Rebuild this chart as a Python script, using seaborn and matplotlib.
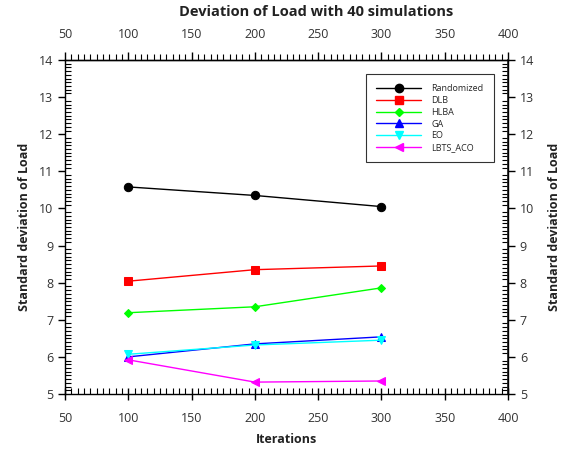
import matplotlib
matplotlib.use("Agg")
import matplotlib.pyplot as plt
from matplotlib.ticker import MultipleLocator, FixedLocator
from matplotlib.lines import Line2D
import seaborn as sns
import numpy as np
import pandas as pd

iterations = [100, 200, 300]
randomized = [10.58, 10.35, 10.05]
dlb = [8.04, 8.35, 8.45]
hlba = [7.19, 7.35, 7.86]
ga = [6.00, 6.35, 6.54]
eo = [6.07, 6.32, 6.45]
lbts_aco = [5.92, 5.32, 5.35]

series_names = ["Randomized", "DLB", "HLBA", "GA", "EO", "LBTS_ACO"]
series_values = [randomized, dlb, hlba, ga, eo, lbts_aco]
colors = ["#000000", "#ff0000", "#00ff00", "#0000ff", "#00ffff", "#ff00ff"]
markers = ["o", "s", "D", "^", "v", "<"]
marker_sizes = [6, 6, 4.5, 6, 6, 6]

sns.set_theme(style="white")
plt.rcParams["font.family"] = ["Open Sans", "DejaVu Sans"]

fig = plt.figure(figsize=(5.63, 4.54), dpi=100)
ax = fig.add_axes([0.1155, 0.1322, 0.7868, 0.7356])

rows = []
for name, vals in zip(series_names, series_values):
    for x, y in zip(iterations, vals):
        rows.append({"Iterations": x, "Value": y, "Method": name})
df = pd.DataFrame(rows)

handles = []
for name, c, m, ms in zip(series_names, colors, markers, marker_sizes):
    sub = df[df["Method"] == name]
    sns.lineplot(data=sub, x="Iterations", y="Value", ax=ax, color=c,
                 marker=m, markersize=ms, markeredgecolor=c, linewidth=1.0,
                 legend=False)
    handles.append(Line2D([0], [0], color=c, marker=m, markersize=ms,
                          markeredgecolor=c, linewidth=1.0, label=name))

x_major = np.arange(50, 401, 50)
x_minor = np.arange(50, 401, 5)
y_major = np.arange(5, 15, 1)
y_minor = np.round(np.arange(5, 14.001, 0.1), 1)

ax.set_xlim(50, 400)
ax.set_ylim(5, 14)
ax.xaxis.set_major_locator(FixedLocator(x_major))
ax.xaxis.set_minor_locator(FixedLocator(x_minor))
ax.yaxis.set_major_locator(FixedLocator(y_major))
ax.yaxis.set_minor_locator(FixedLocator(y_minor))

for s in ax.spines.values():
    s.set_color("black")
    s.set_linewidth(1.0)

tick_color = "#333333"
ax.tick_params(axis="x", which="major", direction="inout", length=8, width=1,
               color="black", labelsize=9, labelcolor=tick_color, pad=9,
               bottom=True, top=False)
ax.tick_params(axis="x", which="minor", direction="in", length=4, width=0.8,
               color="black", bottom=True, top=False)
ax.tick_params(axis="y", which="major", direction="out", length=5, width=1,
               color="black", labelsize=9, labelcolor=tick_color, left=True, right=False)
ax.tick_params(axis="y", which="minor", direction="in", length=4, width=0.8,
               color="black", left=True, right=False)

# top axis: ticks pointing outward
top = ax.secondary_xaxis("top")
top.xaxis.set_major_locator(FixedLocator(x_major))
top.xaxis.set_minor_locator(FixedLocator(x_minor))
top.tick_params(axis="x", which="major", direction="out", length=6, width=1,
                color="black", labelsize=9, labelcolor=tick_color, pad=8)
top.tick_params(axis="x", which="minor", direction="out", length=4, width=0.8,
                color="black")
top.spines["top"].set_linewidth(1.0)

# right axis mirrors the left one
right = ax.secondary_yaxis("right")
right.yaxis.set_major_locator(FixedLocator(y_major))
right.yaxis.set_minor_locator(FixedLocator(y_minor))
right.tick_params(axis="y", which="major", direction="out", length=5, width=1,
                  color="black", labelsize=9, labelcolor=tick_color)
right.tick_params(axis="y", which="minor", direction="in", length=4, width=0.8,
                  color="black")
right.set_ylabel("Standard deviation of Load", fontsize=9, fontweight="bold",
                 color="#222222", labelpad=10)

ax.set_xlabel("Iterations", fontsize=9, fontweight="bold", color="#222222", labelpad=6)
ax.set_ylabel("Standard deviation of Load", fontsize=9, fontweight="bold",
              color="#222222", labelpad=6)
fig.suptitle("Deviation of Load with 40 simulations", fontsize=10.5, fontweight="bold",
             color="#222222", x=0.562, y=0.99)

leg = ax.legend(handles=handles, loc="upper right", bbox_to_anchor=(0.968, 0.958),
                fontsize=6.5, frameon=True, fancybox=False, handlelength=5.0,
                borderpad=1.15, labelspacing=0.3, handletextpad=1.1,
                borderaxespad=0.0)
leg.get_frame().set_edgecolor("black")
leg.get_frame().set_linewidth(0.8)

fig.savefig("out.png", dpi=100, facecolor="white")
